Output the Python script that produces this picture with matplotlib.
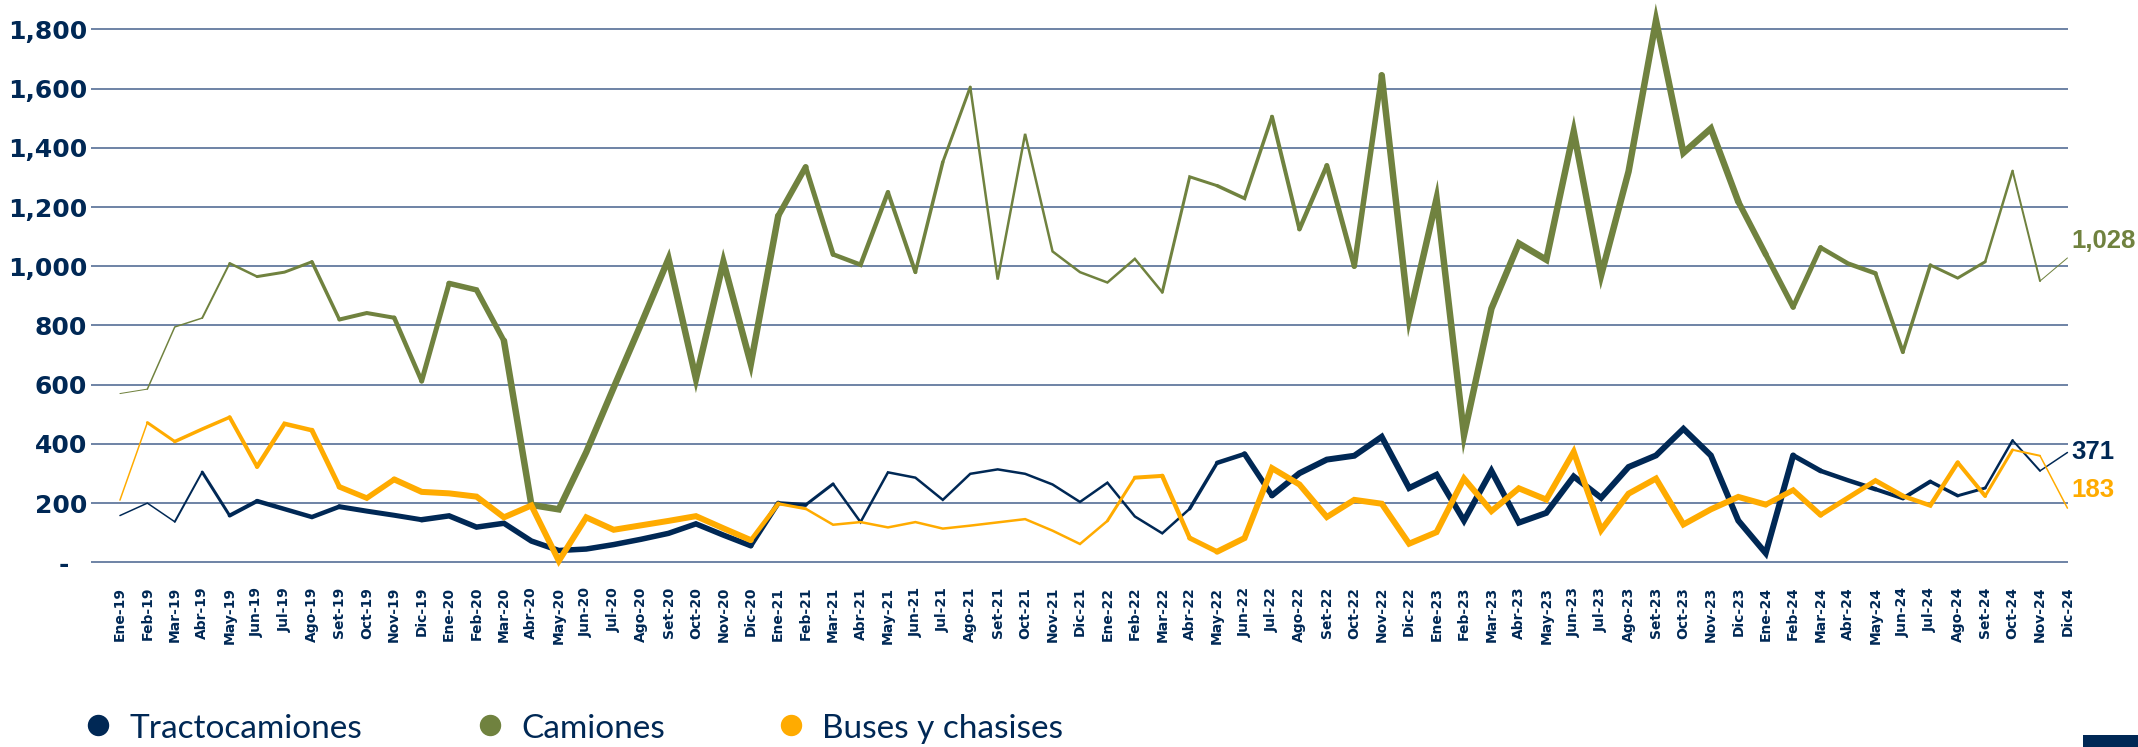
import matplotlib
matplotlib.use('Agg')
import matplotlib.pyplot as plt
from matplotlib.lines import Line2D
from matplotlib.patches import Rectangle

# --- datos mensuales ---
meses = ['Ene', 'Feb', 'Mar', 'Abr', 'May', 'Jun', 'Jul', 'Ago', 'Set', 'Oct', 'Nov', 'Dic']
anios = ['19', '20', '21', '22', '23', '24']
periodos = [f'{m}-{a}' for a in anios for m in meses]

tractocamiones = [
    158, 200, 137, 305, 158, 207, 180, 153, 188, 173, 159, 144,
    157, 119, 132, 72, 40, 45, 60, 78, 98, 130, 92, 56,
    200, 194, 265, 136, 304, 286, 211, 299, 314, 299, 263, 204,
    269, 155, 98, 181, 336, 366, 226, 301, 347, 360, 424, 251,
    296, 141, 309, 134, 167, 290, 218, 322, 361, 451, 361, 141,
    31, 361, 309, 277, 247, 216, 273, 225, 251, 412, 309, 371,
]
camiones = [
    570, 585, 795, 825, 1010, 965, 980, 1015, 820, 842, 826, 612,
    942, 920, 748, 194, 179, 372, 590, 805, 1025, 620, 1015, 670,
    1170, 1335, 1040, 1005, 1250, 980, 1352, 1605, 955, 1447, 1050, 980,
    945, 1025, 912, 1302, 1272, 1229, 1505, 1125, 1340, 1000, 1645, 825,
    1228, 430, 857, 1077, 1022, 1455, 970, 1320, 1830, 1383, 1465, 1218,
    1040, 862, 1063, 1009, 976, 710, 1004, 960, 1015, 1322, 950, 1028,
]
buses = [
    210, 472, 408, 450, 490, 323, 468, 446, 255, 217, 280, 238,
    233, 222, 152, 192, 5, 152, 110, 125, 140, 156, 115, 75,
    198, 181, 127, 136, 118, 136, 114, 124, 135, 146, 107, 62,
    140, 286, 292, 82, 36, 82, 318, 263, 153, 211, 198, 63,
    102, 283, 173, 250, 212, 373, 109, 232, 283, 128, 179, 221,
    195, 244, 160, 218, 276, 224, 192, 337, 224, 380, 360, 183,
]

# grosor de cada tramo (en px), uno por segmento
grosor_tracto = [
    1.5, 1.5, 2.0, 3.0, 4.0, 4.5, 4.5, 4.5, 5.0, 5.0, 5.0, 5.5,
    5.5, 5.5, 5.5, 5.5, 5.5, 5.5, 5.5, 5.5, 5.5, 5.5, 5.5, 5.0,
    4.0, 3.0, 2.5, 2.5, 2.5, 2.5, 2.5, 2.5, 2.5, 2.5, 2.5, 2.5,
    2.5, 2.5, 2.5, 3.5, 4.5, 5.5, 6.0, 6.0, 6.0, 6.0, 6.0, 6.0,
    6.0, 6.0, 6.0, 6.0, 6.0, 6.0, 6.0, 6.0, 6.0, 6.0, 6.0, 6.0,
    6.0, 5.0, 4.5, 4.5, 4.0, 4.0, 3.5, 3.0, 2.5, 2.0, 1.5,
]
grosor_camiones = [
    1.0, 1.5, 1.5, 2.0, 2.5, 3.0, 3.0, 3.5, 4.0, 4.0, 4.5, 5.0,
    5.5, 5.5, 6.5, 6.5, 6.5, 6.5, 6.5, 6.5, 6.5, 6.5, 6.5, 6.5,
    6.0, 5.0, 4.5, 4.5, 4.0, 3.5, 3.0, 2.5, 2.5, 2.5, 2.5, 2.5,
    2.5, 2.5, 3.0, 3.0, 3.5, 3.5, 4.0, 4.5, 5.0, 5.5, 6.5, 6.5,
    6.5, 6.5, 6.5, 6.5, 6.5, 6.5, 6.5, 6.5, 6.5, 6.5, 6.5, 6.0,
    5.5, 5.0, 4.5, 4.5, 4.0, 3.5, 3.0, 3.0, 2.5, 2.0, 1.0,
]
grosor_buses = [
    1.5, 3.0, 3.5, 3.5, 4.0, 4.5, 4.5, 5.0, 5.5, 5.5, 6.0, 6.0,
    6.0, 6.0, 6.0, 6.0, 6.0, 6.0, 6.0, 6.0, 6.0, 6.0, 6.0, 4.5,
    3.0, 2.5, 2.5, 2.5, 2.5, 2.5, 2.5, 2.5, 2.5, 2.5, 2.5, 2.5,
    3.0, 4.0, 4.5, 5.0, 6.0, 6.0, 6.0, 6.0, 6.0, 6.0, 6.0, 6.0,
    6.0, 6.0, 6.0, 6.0, 6.0, 6.0, 6.0, 6.0, 6.0, 6.0, 6.0, 6.0,
    5.5, 5.5, 5.0, 5.0, 5.0, 4.5, 4.5, 4.0, 3.0, 2.0, 1.5,
]

AZUL = '#002855'
VERDE = '#70823f'
AMARILLO = '#ffab00'
REJILLA = '#46628d'

W, H = 2138, 747
fig = plt.figure(figsize=(W / 100, H / 100), dpi=100)
ax = fig.add_axes([91.4 / W, 0.2234, (2068 - 91.4) / W, 0.775])


def dibujar(serie, grosor, color, z):
    # une los tramos de igual grosor para conservar las uniones en punta
    x = list(range(len(serie)))
    ini = 0
    for k in range(1, len(grosor) + 1):
        if k == len(grosor) or grosor[k] != grosor[ini]:
            ax.plot(x[ini:k + 1], serie[ini:k + 1], color=color,
                    lw=grosor[ini] * 0.72, solid_joinstyle='miter',
                    solid_capstyle='round', zorder=z, clip_on=False)
            ini = k


dibujar(tractocamiones, grosor_tracto, AZUL, 3)
dibujar(camiones, grosor_camiones, VERDE, 4)
dibujar(buses, grosor_buses, AMARILLO, 5)

ax.set_xlim(-1.04, len(periodos) - 1 + 0.02)
ax.set_ylim(-60, 1895)

valores_y = list(range(0, 1801, 200))
ax.set_yticks(valores_y)
ax.set_yticklabels(['-\u2007' if v == 0 else f'{v:,}' for v in valores_y],
                   fontsize=18, fontweight='bold', color=AZUL)
ax.set_xticks(range(len(periodos)))
ax.set_xticklabels(periodos, rotation=90, fontsize=10, fontweight='bold', color=AZUL)
ax.tick_params(axis='both', length=0)
ax.tick_params(axis='y', pad=3)
ax.tick_params(axis='x', pad=4.8)
ax.yaxis.grid(True, color=REJILLA, lw=1.1)
ax.set_axisbelow(True)
for s in ax.spines.values():
    s.set_visible(False)
ax.patch.set_visible(False)

# valores finales de cada serie
fin = len(periodos) - 1
for serie, color, dy in [(camiones, VERDE, 12), (tractocamiones, AZUL, 0), (buses, AMARILLO, 13)]:
    ax.annotate(f'{serie[-1]:,}', xy=(fin, serie[-1]), xytext=(3, dy),
                textcoords='offset points', ha='left', va='center',
                fontsize=18.5, fontweight='bold', family=['Liberation Sans', 'DejaVu Sans'],
                color=color, annotation_clip=False)

# leyenda
for nombre, color, xt in [('Tractocamiones', AZUL, 129.5), ('Camiones', VERDE, 521),
                          ('Buses y chasises', AMARILLO, 822)]:
    fig.add_artist(Line2D([(xt - 31.5) / W], [1 - 725.4 / H], marker='o', markersize=14.4,
                          color=color, linestyle='none', transform=fig.transFigure))
    fig.text(xt / W, 1 - 737.6 / H, nombre, fontsize=24, family=['Lato', 'DejaVu Sans'],
             color=AZUL, ha='left', va='baseline')

fig.add_artist(Rectangle((2083 / W, 0), 55 / W, 12 / H, transform=fig.transFigure,
                         color=AZUL, lw=0))

fig.savefig('out.png', dpi=100)
